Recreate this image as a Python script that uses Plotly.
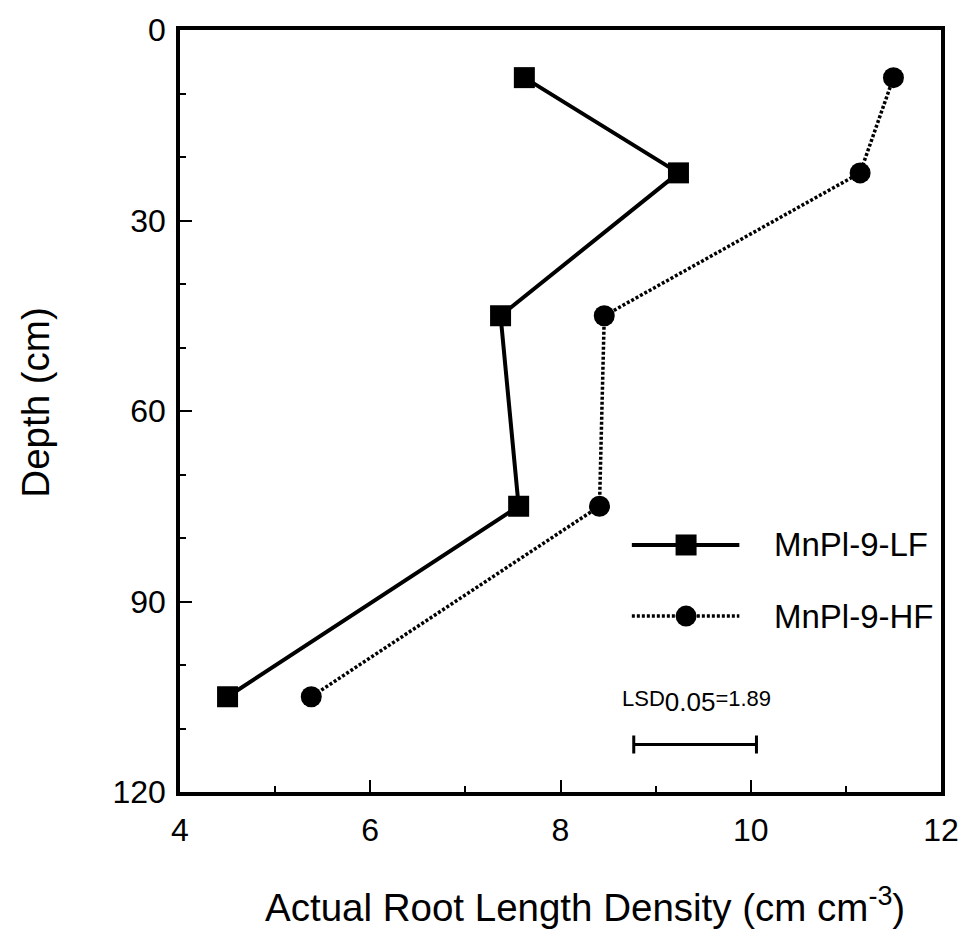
import plotly.graph_objects as go

# ---- data ----
depth = [7.5, 22.5, 45, 75, 105]
lf_density = [7.62, 9.24, 7.37, 7.56, 4.50]
hf_density = [11.50, 11.15, 8.46, 8.41, 5.38]
series_names = ["MnPl-9-LF", "MnPl-9-HF"]
x_ticks = [4, 6, 8, 10, 12]
y_ticks = [0, 30, 60, 90, 120]
lsd_value = 1.89
lsd_center = [9.415]
lsd_half = [0.645]
lsd_depth = [112.5]

FONT = "Liberation Sans, Arial, Helvetica, sans-serif"

fig = go.Figure()

fig.add_trace(go.Scatter(
    x=lf_density, y=depth, mode="lines+markers", name=series_names[0],
    line=dict(color="black", width=4),
    marker=dict(symbol="square", size=21, color="black"),
    showlegend=False))
fig.add_trace(go.Scatter(
    x=hf_density, y=depth, mode="lines+markers", name=series_names[1],
    line=dict(color="black", width=3.5, dash="3px,2px"),
    marker=dict(symbol="circle", size=21, color="black"),
    showlegend=False))

# manual legend samples (layout positions)
leg_x = [8.75, 9.88]
leg_mid = [9.32]
leg_y = [81.1, 92.3]
fig.add_trace(go.Scatter(x=leg_x, y=[leg_y[0]] * 2, mode="lines",
                         line=dict(color="black", width=4), showlegend=False, hoverinfo="skip"))
fig.add_trace(go.Scatter(x=leg_mid, y=[leg_y[0]], mode="markers",
                         marker=dict(symbol="square", size=21, color="black"), showlegend=False, hoverinfo="skip"))
fig.add_trace(go.Scatter(x=leg_x, y=[leg_y[1]] * 2, mode="lines",
                         line=dict(color="black", width=3.5, dash="3px,2px"), showlegend=False, hoverinfo="skip"))
fig.add_trace(go.Scatter(x=leg_mid, y=[leg_y[1]], mode="markers",
                         marker=dict(symbol="circle", size=21, color="black"), showlegend=False, hoverinfo="skip"))

# LSD bar
fig.add_trace(go.Scatter(
    x=lsd_center, y=lsd_depth, mode="markers",
    marker=dict(size=1, color="rgba(0,0,0,0)"),
    error_x=dict(type="data", array=lsd_half, color="black", thickness=3, width=9),
    showlegend=False, hoverinfo="skip"))

annotations = [
    dict(x=10.22, y=leg_y[0], xref="x", yref="y", text=series_names[0], showarrow=False,
         xanchor="left", yanchor="middle", font=dict(size=33, family=FONT, color="black")),
    dict(x=10.22, y=leg_y[1], xref="x", yref="y", text=series_names[1], showarrow=False,
         xanchor="left", yanchor="middle", font=dict(size=33, family=FONT, color="black")),
    dict(x=8.63, y=105.8, xref="x", yref="y",
         text="LSD<sub><span style='font-size:26px'>0.05</span></sub>=%.2f" % lsd_value,
         showarrow=False, xanchor="left", yanchor="middle",
         font=dict(size=22, family=FONT, color="black")),
    dict(x=0.532, y=-0.148, xref="paper", yref="paper",
         text="Actual Root Length Density (cm cm<sup>-3</sup>)", showarrow=False,
         xanchor="center", yanchor="middle", font=dict(size=38.5, family=FONT, color="black")),
    dict(x=-0.1898, y=0.5104, xref="paper", yref="paper", text="Depth (cm)", textangle=-90,
         showarrow=False, xanchor="center", yanchor="middle",
         font=dict(size=38.5, family=FONT, color="black")),
]

fig.update_layout(
    width=971, height=937,
    margin=dict(l=180, r=27, t=24, b=145),
    paper_bgcolor="white", plot_bgcolor="white",
    font=dict(family=FONT, color="black", size=32),
    annotations=annotations,
    showlegend=False,
)

fig.update_xaxes(
    range=[4, 12], tickvals=x_ticks, ticktext=[str(v) for v in x_ticks],
    ticks="inside", ticklen=12, tickwidth=2, tickcolor="black",
    minor=dict(dtick=1, ticks="inside", ticklen=6, tickwidth=2, tickcolor="black"),
    showline=True, linecolor="black", linewidth=3.5, mirror=True,
    showgrid=False, zeroline=False, tickfont=dict(size=32),
    ticklabelstandoff=7,
)
fig.update_yaxes(
    range=[120, 0], tickvals=y_ticks, ticktext=[str(v) for v in y_ticks],
    ticks="inside", ticklen=12, tickwidth=2, tickcolor="black",
    minor=dict(dtick=10, ticks="inside", ticklen=6, tickwidth=2, tickcolor="black"),
    showline=True, linecolor="black", linewidth=3.5, mirror=True,
    showgrid=False, zeroline=False, tickfont=dict(size=32),
    ticklabelstandoff=4,
)

fig.write_html("out.html")
